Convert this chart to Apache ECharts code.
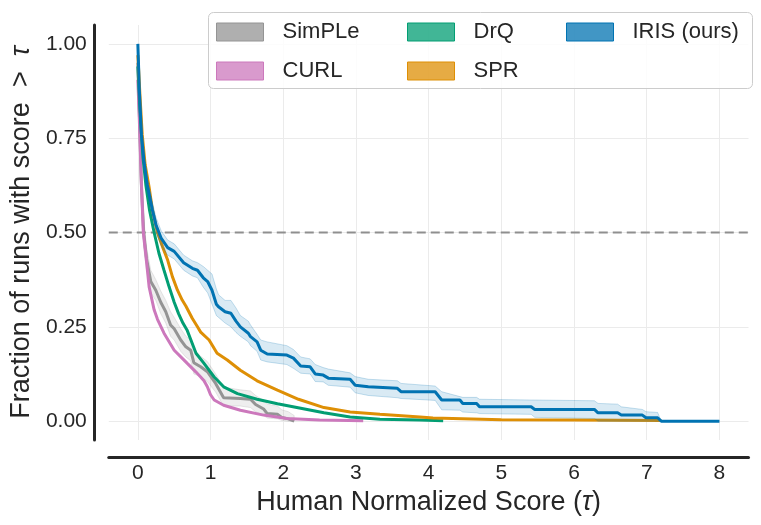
<!DOCTYPE html>
<html>
<head>
<meta charset="utf-8">
<script src="https://cdn.jsdelivr.net/npm/echarts@6/dist/echarts.min.js"></script>
<style>html,body{margin:0;padding:0;background:#fff}#c{width:761px;height:525px}</style>
</head>
<body>
<div id="c"></div>
<script>
const xTickLabels = ['0','1','2','3','4','5','6','7','8'];
const yTickLabels = ['0.00','0.25','0.50','0.75','1.00'];
const threshold = 0.5;

const seriesNames = ['SimPLe','CURL','DrQ','SPR','IRIS (ours)'];

const simpleX = [0,0.02,0.05,0.08,0.12,0.178,0.247,0.315,0.384,0.45,0.5,0.59,0.66,0.727,0.77,0.864,0.956,1.07,1.18,1.41,1.55,1.62,1.73,1.78,1.92,1.98,2.07,2.15];
const simpleY = [0.95,0.82,0.62,0.5,0.43,0.37,0.347,0.315,0.29,0.255,0.245,0.215,0.197,0.188,0.155,0.144,0.131,0.1,0.062,0.06,0.058,0.044,0.032,0.02,0.018,0.01,0.006,0];
const simpleHi = [0.96,0.85,0.66,0.54,0.46,0.40,0.375,0.345,0.32,0.29,0.275,0.245,0.225,0.215,0.19,0.172,0.158,0.125,0.09,0.083,0.08,0.068,0.055,0.045,0.04,0.03,0.025,0.015];
const simpleLo = [0.94,0.79,0.58,0.46,0.40,0.34,0.32,0.285,0.26,0.225,0.215,0.185,0.17,0.16,0.125,0.118,0.105,0.077,0.04,0.04,0.036,0.025,0.015,0.008,0.006,0.002,0,0];

const curlX = [0,0.02,0.045,0.075,0.11,0.155,0.224,0.27,0.36,0.5,0.68,0.8,0.864,0.91,0.956,1.0,1.05,1.18,1.41,1.73,2.05,2.5,3.1];
const curlY = [0.905,0.8,0.65,0.5,0.44,0.356,0.295,0.27,0.233,0.188,0.153,0.13,0.117,0.107,0.091,0.07,0.056,0.042,0.029,0.016,0.007,0.003,0.001];

const drqX = [0,0.03,0.07,0.11,0.16,0.224,0.29,0.36,0.43,0.5,0.56,0.62,0.68,0.73,0.8,0.91,1.05,1.18,1.37,1.64,1.92,2.24,2.56,2.92,3.33,3.88,4.2];
const drqY = [0.94,0.82,0.7,0.626,0.56,0.5,0.445,0.4,0.356,0.315,0.285,0.26,0.24,0.215,0.18,0.153,0.117,0.091,0.073,0.058,0.046,0.034,0.022,0.011,0.005,0.003,0.001];

const sprX = [0,0.03,0.06,0.1,0.155,0.2,0.27,0.34,0.41,0.475,0.545,0.61,0.66,0.75,0.82,0.864,0.98,1.09,1.23,1.41,1.64,1.92,2.21,2.56,2.92,3.33,3.88,4.06,5.0,6.0,7.2];
const sprY = [0.97,0.86,0.76,0.68,0.62,0.56,0.5,0.462,0.427,0.383,0.347,0.321,0.305,0.272,0.25,0.236,0.215,0.18,0.162,0.135,0.107,0.082,0.058,0.036,0.024,0.018,0.011,0.008,0.004,0.003,0.002];

const irisX = [0,0.02,0.05,0.087,0.13,0.2,0.25,0.29,0.32,0.41,0.5,0.63,0.75,0.82,0.9,0.96,1.02,1.08,1.11,1.2,1.28,1.35,1.41,1.52,1.55,1.64,1.69,1.78,2.05,2.14,2.24,2.37,2.44,2.55,2.62,2.92,2.99,3.17,3.57,3.62,4.09,4.18,4.43,4.47,4.66,4.7,5.41,5.46,6.28,6.33,6.6,6.65,6.94,6.99,7.15,7.2,8.0];
const irisY = [1.0,0.88,0.76,0.684,0.626,0.56,0.52,0.5,0.485,0.46,0.45,0.42,0.405,0.4,0.38,0.37,0.347,0.31,0.303,0.29,0.286,0.265,0.25,0.233,0.224,0.21,0.188,0.178,0.175,0.167,0.146,0.144,0.125,0.122,0.114,0.111,0.095,0.091,0.087,0.078,0.078,0.056,0.056,0.047,0.047,0.038,0.038,0.031,0.031,0.022,0.022,0.016,0.016,0.009,0.009,0,0];
const irisHi = [1.0,0.89,0.78,0.70,0.645,0.58,0.54,0.52,0.505,0.48,0.47,0.44,0.425,0.42,0.41,0.40,0.39,0.35,0.335,0.32,0.32,0.30,0.28,0.265,0.255,0.23,0.215,0.21,0.2,0.19,0.17,0.165,0.15,0.142,0.138,0.128,0.118,0.111,0.107,0.1,0.093,0.078,0.065,0.063,0.063,0.058,0.056,0.056,0.054,0.047,0.045,0.038,0.031,0.025,0.023,0,0];
const irisLo = [1.0,0.87,0.74,0.665,0.605,0.54,0.5,0.48,0.465,0.44,0.43,0.40,0.385,0.38,0.355,0.34,0.31,0.28,0.275,0.26,0.25,0.235,0.225,0.21,0.2,0.185,0.162,0.157,0.15,0.14,0.127,0.125,0.105,0.104,0.095,0.09,0.075,0.068,0.062,0.06,0.055,0.03,0.029,0.024,0.022,0.02,0.018,0.01,0.007,0,0,0,0,0,0,0,0];

const colors = {
  'SimPLe': '#949494', 'CURL': '#cc78bc', 'DrQ': '#029e73', 'SPR': '#de8f05', 'IRIS (ours)': '#0173b2'
};
const patchColors = {
  'SimPLe': 'rgba(148,148,148,0.75)', 'CURL': 'rgba(204,120,188,0.75)', 'DrQ': 'rgba(2,158,115,0.75)',
  'SPR': 'rgba(222,143,5,0.75)', 'IRIS (ours)': 'rgba(1,115,178,0.75)'
};

const FONT = '"Liberation Sans", Arial, sans-serif';
const TXT = '#262626';

function zip(xs, ys) { return xs.map((x, i) => [x, ys[i]]); }

function lineSeries(name, xs, ys, z) {
  return {
    type: 'line', name: name, data: zip(xs, ys), showSymbol: false, symbol: 'none',
    lineStyle: { color: colors[name], width: 3 }, itemStyle: { color: colors[name] },
    z: z, silent: true, emphasis: { disabled: true }, animation: false
  };
}

function bandSeries(name, xs, lo, hi, fill, stroke, z) {
  return {
    type: 'custom', name: name, data: [[xs[0], hi[0]]], z: z, silent: true, animation: false,
    renderItem: function (params, api) {
      const pts = [];
      for (let i = 0; i < xs.length; i++) pts.push(api.coord([xs[i], hi[i]]));
      for (let i = xs.length - 1; i >= 0; i--) pts.push(api.coord([xs[i], lo[i]]));
      return { type: 'polygon', shape: { points: pts }, style: { fill: fill, stroke: stroke, lineWidth: 1 } };
    }
  };
}

function legendCol(names, left) {
  return {
    orient: 'vertical', left: left, top: 16, itemWidth: 47, itemHeight: 18, itemGap: 17,
    icon: 'rect', selectedMode: false, z: 10,
    textStyle: { fontFamily: FONT, fontSize: 22, color: TXT, padding: [0, 0, 0, 14] },
    data: names.map(n => ({ name: n, icon: 'rect', itemStyle: { color: patchColors[n], borderColor: colors[n], borderWidth: 1 } }))
  };
}

const chart = echarts.init(document.getElementById('c'), null, { renderer: 'canvas' });
chart.setOption({
  animation: false,
  backgroundColor: '#fff',
  grid: { left: 107, right: 12.5, top: 25, bottom: 85, containLabel: false },
  xAxis: {
    type: 'value', min: -0.4, max: 8.4, minInterval: 1, maxInterval: 1, offset: 17,
    axisLine: { show: true, onZero: false, lineStyle: { color: TXT, width: 3 } },
    axisTick: { show: false },
    axisLabel: { fontFamily: FONT, fontSize: 21, color: TXT, margin: 6,
      formatter: v => { const i = xTickLabels.indexOf(String(Math.round(v))); return (Math.abs(v - Math.round(v)) < 1e-6 && i >= 0) ? xTickLabels[i] : ''; } },
    splitLine: { show: true, showMinLine: false, showMaxLine: false, lineStyle: { color: '#ebebeb', width: 1 } },
    name: 'Human Normalized Score ({t|τ})', nameLocation: 'middle', nameGap: 23,
    nameTextStyle: { fontFamily: FONT, fontSize: 27, color: TXT,
      rich: { t: { fontFamily: FONT, fontSize: 27, color: TXT, fontStyle: 'italic' } } }
  },
  yAxis: {
    type: 'value', min: -0.05, max: 1.05, minInterval: 0.25, maxInterval: 0.25, offset: 15,
    axisLine: { show: true, onZero: false, lineStyle: { color: TXT, width: 3 } },
    axisTick: { show: false },
    axisLabel: { fontFamily: FONT, fontSize: 21, color: TXT, margin: 7,
      formatter: v => { const k = Math.round(v / 0.25); return (Math.abs(v - k * 0.25) < 1e-6 && k >= 0 && k < yTickLabels.length) ? yTickLabels[k] : ''; } },
    splitLine: { show: true, showMinLine: false, showMaxLine: false, lineStyle: { color: '#ebebeb', width: 1 } },
    name: 'Fraction of runs with score  >  {t|τ}', nameLocation: 'middle', nameGap: 58,
    nameTextStyle: { fontFamily: FONT, fontSize: 27, color: TXT,
      rich: { t: { fontFamily: FONT, fontSize: 27, color: TXT, fontStyle: 'italic' } } }
  },
  legend: [
    legendCol(['SimPLe', 'CURL'], 211),
    legendCol(['DrQ', 'SPR'], 402),
    legendCol(['IRIS (ours)'], 561)
  ],
  graphic: [{
    type: 'rect', left: 208, top: 12, z: 5, silent: true,
    shape: { width: 544, height: 76, r: 5 },
    style: { fill: 'rgba(255,255,255,0.85)', stroke: '#cccccc', lineWidth: 1 }
  }],
  series: [
    { type: 'line', name: 'threshold', data: [[-0.4, threshold], [8.4, threshold]], showSymbol: false, symbol: 'none',
      lineStyle: { color: '#8f8f8f', width: 2, type: [9, 5] }, z: 1, silent: true, animation: false },
    bandSeries('SimPLe band', simpleX, simpleLo, simpleHi, 'rgba(148,148,148,0.16)', 'rgba(148,148,148,0.22)', 2),
    lineSeries('SimPLe', simpleX, simpleY, 3),
    lineSeries('CURL', curlX, curlY, 3),
    lineSeries('DrQ', drqX, drqY, 3),
    lineSeries('SPR', sprX, sprY, 3),
    bandSeries('IRIS band', irisX, irisLo, irisHi, 'rgba(1,115,178,0.15)', 'rgba(1,115,178,0.22)', 4),
    lineSeries('IRIS (ours)', irisX, irisY, 4)
  ]
});
</script>
</body>
</html>
